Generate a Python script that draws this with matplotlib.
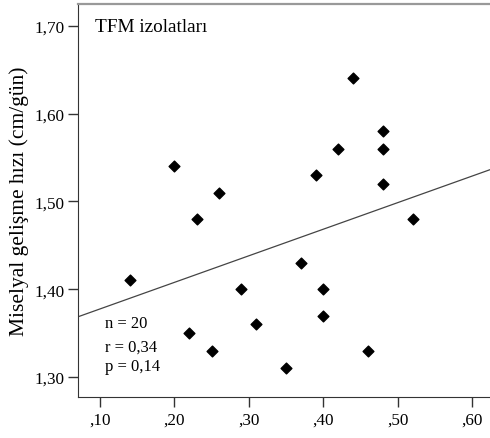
import numpy as np
import matplotlib.pyplot as plt

plt.rcParams['font.family'] = ['Liberation Serif', 'DejaVu Serif']

# TFM izolatlari: x vs miselyal gelisme hizi
x_vals = [0.20, 0.26, 0.23, 0.44, 0.48, 0.42, 0.48, 0.39, 0.48, 0.52,
          0.14, 0.29, 0.22, 0.25, 0.37, 0.40, 0.40, 0.31, 0.35, 0.46]
y_vals = [1.54, 1.51, 1.48, 1.64, 1.58, 1.56, 1.56, 1.53, 1.52, 1.48,
          1.41, 1.40, 1.35, 1.33, 1.43, 1.40, 1.37, 1.36, 1.31, 1.33]
x_ticks = [0.10, 0.20, 0.30, 0.40, 0.50, 0.60]
x_labels = [',10', ',20', ',30', ',40', ',50', ',60']
y_ticks = [1.30, 1.40, 1.50, 1.60, 1.70]
y_labels = ['1,30', '1,40', '1,50', '1,60', '1,70']

fig = plt.figure(figsize=(4.9, 4.39), dpi=100)
ax = fig.add_axes([0.159, 0.093, 0.841, 0.896])

ax.scatter(x_vals, y_vals, marker='D', s=30, color='black', zorder=3)

# linear fit line
slope, intercept = np.polyfit(x_vals, y_vals, 1)
xlim = (0.0705, 0.624)
xs = np.array(xlim)
ax.plot(xs, intercept + slope * xs, color='#444444', lw=0.9)

ax.set_xlim(*xlim)
ax.set_ylim(1.277, 1.725)
ax.set_xticks(x_ticks)
ax.set_xticklabels(x_labels)
ax.set_yticks(y_ticks)
ax.set_yticklabels(y_labels)
ax.tick_params(direction='out', length=7.5, width=1, color='#333333', labelsize=12.3)
ax.tick_params(axis='y', pad=2)
ax.tick_params(axis='x', pad=3)

ax.spines['right'].set_visible(False)
ax.spines['top'].set_color('#999999')
ax.spines['top'].set_linewidth(1.6)
ax.spines['left'].set_color('#333333')
ax.spines['bottom'].set_color('#333333')

ax.set_ylabel('Miselyal gelişme hızı (cm/gün)', fontsize=15.5, labelpad=4)

ax.text(0.042, 0.943, 'TFM izolatları', transform=ax.transAxes, fontsize=13.9, va='center')
ax.text(0.065, 0.189, 'n = 20', transform=ax.transAxes, fontsize=12, va='center')
ax.text(0.065, 0.128, 'r = 0,34', transform=ax.transAxes, fontsize=12, va='center')
ax.text(0.065, 0.079, 'p = 0,14', transform=ax.transAxes, fontsize=12, va='center')

fig.savefig('out.png', dpi=100)
